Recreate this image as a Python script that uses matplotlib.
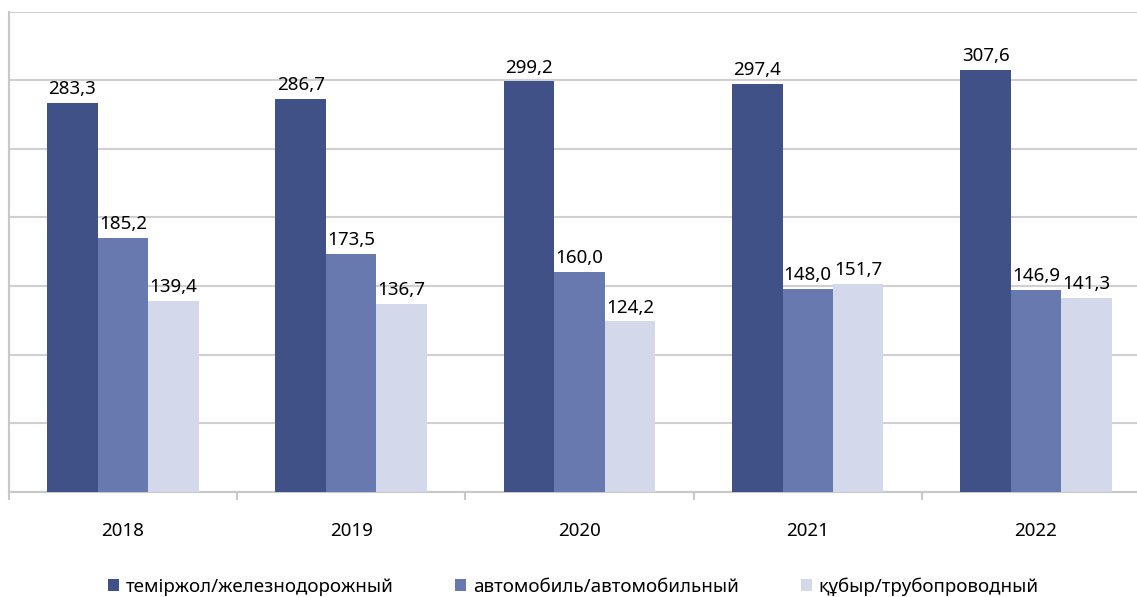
import matplotlib
matplotlib.use("Agg")
import matplotlib.pyplot as plt
import numpy as np

years = ["2018", "2019", "2020", "2021", "2022"]
series_names = ["теміржол/железнодорожный", "автомобиль/автомобильный", "құбыр/трубопроводный"]
rail = [283.3, 286.7, 299.2, 297.4, 307.6]
auto = [185.2, 173.5, 160.0, 148.0, 146.9]
pipe = [139.4, 136.7, 124.2, 151.7, 141.3]
colors = ["#3F5187", "#6879AF", "#D3D9EA"]

plt.rcParams['font.family'] = ['Noto Sans', 'DejaVu Sans']
FS = 13.5

fig = plt.figure(figsize=(11.37, 5.97), dpi=100)
ax = fig.add_axes([8.7/1137, (597-491.7)/597, 1141.5/1137, 480/597])

x = np.arange(len(years))
w = 0.221
handles = []
for i, (vals, c, name) in enumerate(zip([rail, auto, pipe], colors, series_names)):
    bars = ax.bar(x + (i-1)*w, vals, width=w, color=c, label=name, zorder=3)
    handles.append(bars)
    for xi, v in zip(x + (i-1)*w, vals):
        ax.annotate(f"{v:.1f}".replace(".", ","), (xi, v), xytext=(0, 3.5),
                    textcoords="offset points", ha="center", va="bottom",
                    fontsize=FS, color="#000000")

ax.set_xlim(-0.5, len(years)-0.5)
ax.set_ylim(0, 350)
ax.set_yticks(np.arange(0, 351, 50))
ax.yaxis.grid(True, color="#D0D0D0", linewidth=1.5, zorder=0)
ax.set_yticklabels([])
ax.tick_params(axis='y', length=0)
ax.set_xticks(np.arange(-0.5, len(years)+0.5, 1.0))
ax.set_xticklabels([])
ax.set_xticks(x, minor=True)
ax.set_xticklabels(years, minor=True, fontsize=FS)
ax.tick_params(axis='x', which='major', length=6, color="#C8C8C8", width=1.5, direction='out')
ax.tick_params(axis='x', which='minor', length=0, pad=22)
for s in ["top", "right"]:
    ax.spines[s].set_visible(False)
for s in ["left", "bottom"]:
    ax.spines[s].set_color("#C8C8C8")
    ax.spines[s].set_linewidth(1.5)

fig.legend(handles=handles, labels=series_names, loc="lower center", ncol=3,
           bbox_to_anchor=(0.504, -0.026), frameon=False, fontsize=FS,
           handlelength=0.6, handleheight=0.6, handletextpad=0.35, columnspacing=3.3)

fig.savefig("out.png", dpi=100)
